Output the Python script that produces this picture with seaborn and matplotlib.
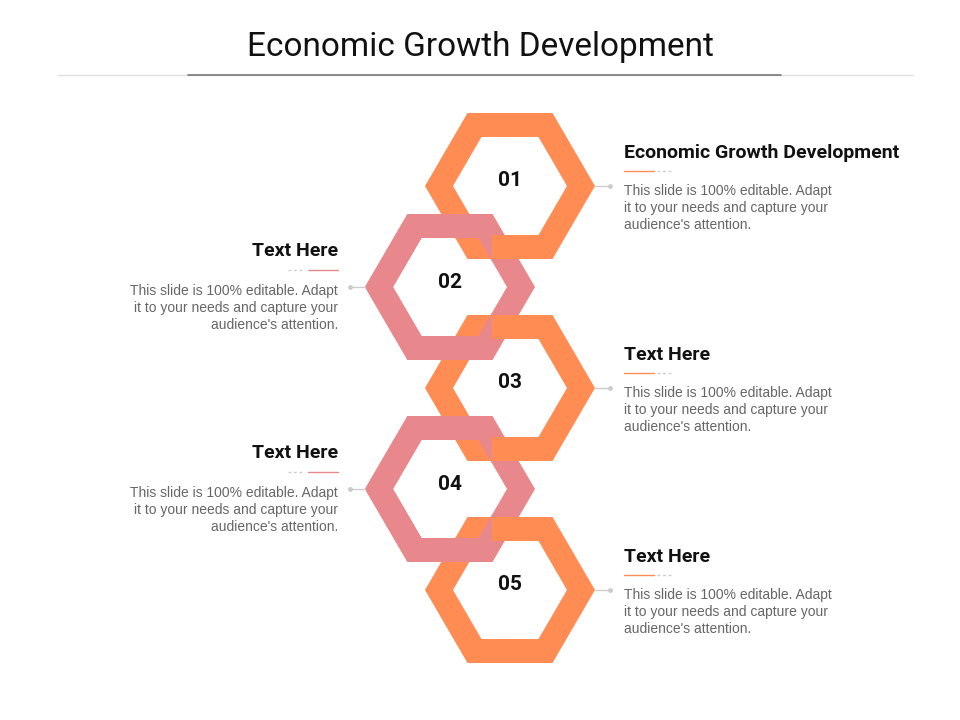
import numpy as np
import matplotlib
matplotlib.use("Agg")
import matplotlib.pyplot as plt
from matplotlib.path import Path
from matplotlib.patches import PathPatch, Rectangle
import seaborn as sns

sns.set_theme(style="white")

numbers = ["01", "02", "03", "04", "05"]
titles = ["Economic Growth Development", "Text Here", "Text Here", "Text Here", "Text Here"]
desc = "This slide is 100% editable. Adapt\nit to your needs and capture your\naudience's attention."
sides = ["right", "left", "right", "left", "right"]
colors = ["#FF8C52", "#E8878C", "#FF8C52", "#E8878C", "#FF8C52"]
main_title = "Economic Growth Development"

cond = ["Liberation Sans Narrow", "Roboto", "DejaVu Sans"]
body = ["Liberation Sans", "Arial", "DejaVu Sans"]

fig = plt.figure(figsize=(9.6, 7.2), dpi=100)
ax = fig.add_axes([0, 0, 1, 1])
ax.set_xlim(0, 960)
ax.set_ylim(720, 0)
ax.axis("off")

def hexpts(cx, cy, r, ry):
    return [(cx - r, cy), (cx - r / 2, cy - ry), (cx + r / 2, cy - ry),
            (cx + r, cy), (cx + r / 2, cy + ry), (cx - r / 2, cy + ry)]

def ring(cx, cy):
    outer = hexpts(cx, cy, 85, 73)
    inner = hexpts(cx, cy, 57, 49)[::-1]
    verts = outer + [outer[0]] + inner + [inner[0]]
    codes = ([Path.MOVETO] + [Path.LINETO] * 5 + [Path.CLOSEPOLY]) * 2
    return Path(verts, codes)

centers = [(510 if s == "right" else 450, 186 + 101 * i) for i, s in enumerate(sides)]

for (cx, cy), c, s in zip(centers, colors, sides):
    if s == "left":
        ax.add_patch(PathPatch(ring(cx, cy), fc=c, ec="none", zorder=1))
for (cx, cy), c, s in zip(centers, colors, sides):
    if s == "right":
        ax.add_patch(PathPatch(ring(cx, cy), fc=c, ec="none", zorder=2))
for (cx, cy), c, s in zip(centers, colors, sides):
    if s == "left":
        p = PathPatch(ring(cx, cy), fc=c, ec="none", zorder=3)
        ax.add_patch(p)
        clip = Rectangle((0, 0), cx + 42.3, 720, transform=ax.transData)
        p.set_clip_path(clip)

for (cx, cy), n, t, s, c in zip(centers, numbers, titles, sides, colors):
    ax.text(cx, cy - 5, n, ha="center", va="center", fontsize=15, fontweight="bold",
            family=cond, color="#111111", zorder=5)
    if s == "right":
        ax.plot([cx + 85, cx + 100], [cy, cy], color="#cccccc", lw=1, zorder=4)
        ax.plot([cx + 100], [cy], "o", ms=2.5, color="#cccccc")
        tx = 624
        ax.text(tx, cy - 33, t, ha="left", va="center", fontsize=14, fontweight="bold",
                family=cond, color="#111111")
        ax.plot([tx, tx + 30], [cy - 15, cy - 15], color=c, lw=1)
        ax.plot([tx + 33, tx + 48], [cy - 15, cy - 15], color="#cccccc", lw=1, ls=(0, (2, 2)))
        ax.text(tx, cy + 22, desc, ha="left", va="center", fontsize=10, family=body,
                color="#666666", linespacing=1.25)
    else:
        ax.plot([cx - 100, cx - 85], [cy, cy], color="#cccccc", lw=1, zorder=4)
        ax.plot([cx - 100], [cy], "o", ms=2.5, color="#cccccc")
        tx = 338
        ax.text(tx, cy - 36, t, ha="right", va="center", fontsize=14, fontweight="bold",
                family=cond, color="#111111")
        ax.plot([tx - 30, tx], [cy - 17, cy - 17], color=c, lw=1)
        ax.plot([tx - 50, tx - 33], [cy - 17, cy - 17], color="#cccccc", lw=1, ls=(0, (2, 2)))
        ax.text(tx, cy + 21, desc, ha="right", va="center", fontsize=10, family=body,
                color="#666666", linespacing=1.25, multialignment="right")

ax.text(480, 47, main_title, ha="center", va="center", fontsize=24, family=cond, color="#111111")
ax.plot([58, 913], [75, 75], color="#e0e0e0", lw=1)
ax.plot([188, 781], [75, 75], color="#777777", lw=1.2)

fig.savefig("out.png", dpi=100)
